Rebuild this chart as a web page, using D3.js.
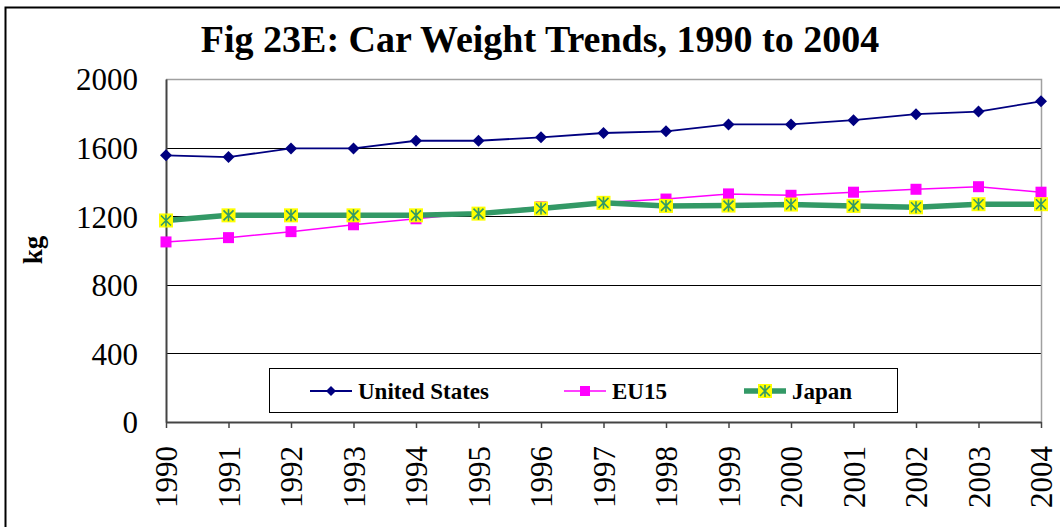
<!DOCTYPE html>
<html><head><meta charset="utf-8">
<script src="https://cdn.jsdelivr.net/npm/d3@7"></script>
<style>body{margin:0;background:#fff}svg{display:block}
svg text{font-family:"Liberation Serif","Times New Roman",serif !important;}
</style>
</head><body>
<svg id="chart" width="1060" height="527"></svg>
<script>
const years = [1990,1991,1992,1993,1994,1995,1996,1997,1998,1999,2000,2001,2002,2003,2004];
const usValues = [1555,1545,1595,1595,1640,1640,1660,1685,1695,1735,1735,1760,1795,1810,1870];
const euValues = [1050,1075,1110,1150,1185,1220,1255,1280,1300,1330,1322,1340,1357,1372,1340];
const japanValues = [1175,1205,1205,1205,1205,1215,1245,1278,1260,1262,1268,1260,1252,1270,1270];
const yTicks = [0,400,800,1200,1600,2000];
const seriesNames = ["United States","EU15","Japan"];
const title = "Fig 23E: Car Weight Trends, 1990 to 2004";
const yLabel = "kg";

const svg = d3.select("#chart");
const L = 166, R = 1041, T = 79, B = 422;
const x = d3.scalePoint().domain(years).range([L, R]);
const y = d3.scaleLinear().domain([0, 2000]).range([B, T]);

// outer frame
svg.append("rect").attr("x",5.5).attr("y",7.5).attr("width",1060).attr("height",530)
  .attr("fill","none").attr("stroke","#000").attr("stroke-width",2);

// title
svg.append("text").attr("x",540).attr("y",52).attr("text-anchor","middle")
  .attr("font-weight","bold").attr("font-size",38)
  .text(title);

// gridlines
svg.append("g").selectAll("line").data(yTicks.filter(d=>d>0 && d<2000)).join("line")
  .attr("x1",L).attr("x2",R).attr("y1",d=>Math.round(y(d))+0.5).attr("y2",d=>Math.round(y(d))+0.5)
  .attr("stroke","#000").attr("stroke-width",1);
// plot border top/right
svg.append("path").attr("d",`M${L},${T+0.5}H${R+0.5}V${B}`).attr("fill","none")
  .attr("stroke","#a0a0a0").attr("stroke-width",1.5);

// y axis
const yAxis = svg.append("g").attr("transform",`translate(${L},0)`)
  .call(d3.axisLeft(y).tickValues(yTicks).tickSize(0).tickPadding(28).tickFormat(d3.format("d")));
yAxis.attr("font-family",null);
yAxis.select(".domain").attr("stroke","#444").attr("stroke-width",2);
yAxis.selectAll("text").attr("font-size",31).attr("fill","#000").attr("dy","0.35em");

// x axis
const xAxis = svg.append("g").attr("transform",`translate(0,${B})`)
  .call(d3.axisBottom(x).tickSize(6).tickSizeOuter(0).tickPadding(0));
xAxis.attr("font-family",null);
xAxis.select(".domain").attr("stroke","#444").attr("stroke-width",2);
xAxis.selectAll(".tick line").attr("stroke","#444").attr("stroke-width",1.5);
xAxis.selectAll("text").attr("font-size",31).attr("fill","#000")
  .attr("transform","rotate(-90)").attr("text-anchor","end").attr("x",-24).attr("y",0).attr("dy","0.35em");

// y label
svg.append("text").attr("transform","translate(42,250) rotate(-90)").attr("text-anchor","middle")
  .attr("font-weight","bold").attr("font-size",27).text(yLabel);

const line = d3.line().x((d,i)=>x(years[i])).y(d=>y(d));

function diamond(g, cx, cy, s){ g.append("path").attr("d",`M${cx},${cy-s}L${cx+s},${cy}L${cx},${cy+s}L${cx-s},${cy}Z`).attr("fill","#000080"); }
function square(g, cx, cy, s){ g.append("rect").attr("x",cx-s/2).attr("y",cy-s/2).attr("width",s).attr("height",s).attr("fill","#ff00ff"); }
function star(g, cx, cy){
  g.append("rect").attr("x",cx-7).attr("y",cy-7).attr("width",14).attr("height",14).attr("fill","#ffff00");
  const r=5;
  g.append("path").attr("d",`M${cx},${cy-r-1}V${cy+r+1}M${cx-r},${cy-r}L${cx+r},${cy+r}M${cx-r},${cy+r}L${cx+r},${cy-r}`)
    .attr("stroke","#339966").attr("stroke-width",1.6).attr("fill","none");
}

// US
svg.append("path").datum(usValues).attr("d",line).attr("fill","none").attr("stroke","#000080").attr("stroke-width",1.8);
const gUS = svg.append("g"); usValues.forEach((v,i)=>diamond(gUS, x(years[i]), y(v), 6));
// EU
svg.append("path").datum(euValues).attr("d",line).attr("fill","none").attr("stroke","#ff00ff").attr("stroke-width",1.5);
const gEU = svg.append("g"); euValues.forEach((v,i)=>square(gEU, x(years[i]), y(v), 11));
// Japan
svg.append("path").datum(japanValues).attr("d",line).attr("fill","none").attr("stroke","#339966").attr("stroke-width",5.5);
const gJP = svg.append("g"); japanValues.forEach((v,i)=>star(gJP, x(years[i]), y(v)));

// legend
const lg = svg.append("g");
lg.append("rect").attr("x",269.5).attr("y",368.5).attr("width",628).attr("height",44).attr("fill","#fff").attr("stroke","#000").attr("stroke-width",1);
const legendX = [310, 564, 744];
const ly = 391;
seriesNames.forEach((n,i)=>{
  const x0 = legendX[i];
  const color = ["#000080","#ff00ff","#339966"][i];
  lg.append("line").attr("x1",x0).attr("x2",x0+42).attr("y1",ly).attr("y2",ly).attr("stroke",color).attr("stroke-width",[1.8,1.5,5.5][i]);
  if(i===0) diamond(lg, x0+21, ly, 5);
  if(i===1) square(lg, x0+21, ly, 10);
  if(i===2) star(lg, x0+21, ly);
  lg.append("text").attr("x",x0+48).attr("y",ly).attr("dy","0.35em")
    .attr("font-weight","bold").attr("font-size",23).text(n);
});
</script>
</body></html>
